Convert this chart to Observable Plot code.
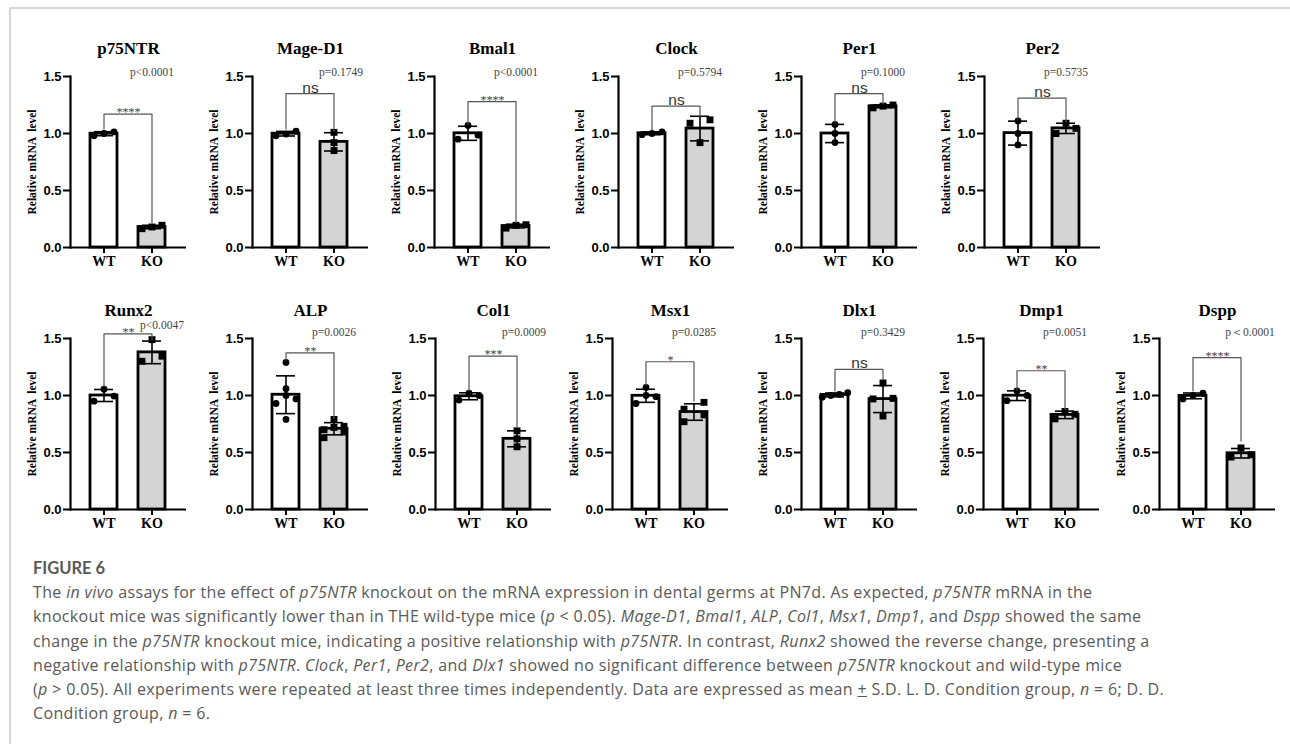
<!DOCTYPE html>
<html>
<head>
<meta charset="utf-8">
<script src="https://cdn.jsdelivr.net/npm/d3@7"></script>
<script src="https://cdn.jsdelivr.net/npm/@observablehq/plot@0.6"></script>
<style>
  html, body { margin: 0; padding: 0; background: #fff; }
  body { width: 1290px; height: 744px; overflow: hidden; position: relative; }
  #frame { position: absolute; left: 9px; top: 7px; width: 1320px; height: 780px;
           border-left: 2px solid #d6d6d6; border-top: 2px solid #d6d6d6; }
  .panel { position: absolute; }
  #caption { position: absolute; left: 33px; top: 556px; font-family: "Open Sans", Lato, sans-serif;
             color: #595959; white-space: nowrap; }
  #caption .fig { font-family: Lato, sans-serif; font-size: 16.5px; font-weight: bold; line-height: 24px; }
  #caption .ln { font-size: 16px; line-height: 24.3px; letter-spacing: 0.34px; }
</style>
</head>
<body>
<div id="frame"></div>
<div id="charts"></div>
<div id="caption">
  <div class="fig">FIGURE 6</div>
  <div class="ln">The <i>in vivo</i> assays for the effect of <i>p75NTR</i> knockout on the mRNA expression in dental germs at PN7d. As expected, <i>p75NTR</i> mRNA in the</div>
  <div class="ln">knockout mice was significantly lower than in THE wild-type mice (<i>p</i> &lt; 0.05). <i>Mage-D1</i>, <i>Bmal1</i>, <i>ALP</i>, <i>Col1</i>, <i>Msx1</i>, <i>Dmp1</i>, and <i>Dspp</i> showed the same</div>
  <div class="ln">change in the <i>p75NTR</i> knockout mice, indicating a positive relationship with <i>p75NTR</i>. In contrast, <i>Runx2</i> showed the reverse change, presenting a</div>
  <div class="ln">negative relationship with <i>p75NTR</i>. <i>Clock</i>, <i>Per1</i>, <i>Per2</i>, and <i>Dlx1</i> showed no significant difference between <i>p75NTR</i> knockout and wild-type mice</div>
  <div class="ln">(<i>p</i> &gt; 0.05). All experiments were repeated at least three times independently. Data are expressed as mean <u>+</u> S.D. L. D. Condition group, <i>n</i> = 6; D. D.</div>
  <div class="ln">Condition group, <i>n</i> = 6.</div>
</div>
<script>
// ---------------- DATA ----------------
const genes = ["p75NTR", "Mage-D1", "Bmal1", "Clock", "Per1", "Per2",
               "Runx2", "ALP", "Col1", "Msx1", "Dlx1", "Dmp1", "Dspp"];
const groups = ["WT", "KO"];
const wtValues = [
  [0.98, 1.015, 1.0],
  [0.98, 1.02, 0.995],
  [0.95, 1.07, 0.985],
  [0.99, 1.015, 1.0],
  [1.08, 1.0, 0.92],
  [1.11, 1.0, 0.9],
  [0.95, 1.055, 0.995],
  [1.29, 1.06, 0.97, 1.0, 0.93, 0.79],
  [0.96, 1.02, 1.0],
  [1.07, 0.99, 1.0, 0.93],
  [0.985, 1.0, 1.01, 1.025],
  [1.04, 0.955, 1.0],
  [0.97, 1.02, 1.0]
];
const koValues = [
  [0.165, 0.195, 0.18],
  [0.85, 0.92, 1.01],
  [0.17, 0.2, 0.195],
  [0.92, 1.09, 1.12],
  [1.225, 1.25, 1.24],
  [1.0, 1.09, 1.045],
  [1.3, 1.345, 1.49],
  [0.79, 0.73, 0.72, 0.7, 0.68, 0.63],
  [0.69, 0.62, 0.55],
  [0.94, 0.88, 0.83, 0.77],
  [1.11, 0.97, 0.975, 0.82],
  [0.795, 0.86, 0.835],
  [0.46, 0.54, 0.48]
];
const sigLabels = ["****", "ns", "****", "ns", "ns", "ns", "**", "**", "***", "*", "ns", "**", "****"];
const pLabels = ["p<0.0001", "p=0.1749", "p<0.0001", "p=0.5794", "p=0.1000", "p=0.5735",
                 "p<0.0047", "p=0.0026", "p=0.0009", "p=0.0285", "p=0.3429", "p=0.0051", "p\uFF1C0.0001"];
const bracketHeights = [1.17, 1.35, 1.28, 1.24, 1.35, 1.31, 1.54, 1.374, 1.345, 1.296, 1.23, 1.217, 1.333];
const bracketWTEnds = [1.04, 1.04, 1.08, 1.03, 1.1, 1.13, 1.08, 1.31, 1.04, 1.09, 1.04, 1.05, 1.04];
const bracketKOEnds = [0.22, 1.02, 0.22, 1.15, 1.26, 1.1, 1.49, 0.8, 0.72, 0.95, 1.14, 0.88, 0.6];
const yTicks = [0, 0.5, 1.0, 1.5];
const yTitle = "Relative mRNA  level";

// ---------------- LAYOUT ----------------
const rows = [
  {top: 31, axisX: [70, 252, 434, 618, 801, 984], genes: [0, 1, 2, 3, 4, 5]},
  {top: 293, axisX: [70, 252, 435, 612, 801, 983, 1159], genes: [6, 7, 8, 9, 10, 11, 12]}
];
const ML = 55, MR = 15, MT = 45, MB = 30, INNER_W = 116, INNER_H = 171;
const pTextDx = {1: 7, 6: 10, 8: 7, 12: 9};
const pTextDy = {6: -13};

// x band layout
const padInner = 0.43, padOuter = 0.4;
const step = INNER_W / (groups.length - padInner + 2 * padOuter);

// spread points of similar value side by side (GraphPad-like scatter)
function spread(vals) {
  const idx = d3.range(vals.length).sort((a, b) => vals[a] - vals[b]);
  const off = new Array(vals.length).fill(0);
  let row = [];
  const flush = () => {
    const k = row.length;
    const sp = k === 2 ? 20 : k === 3 ? 10 : 8.5;
    row.forEach((i, j) => off[i] = (j - (k - 1) / 2) * sp);
    row = [];
  };
  for (const i of idx) {
    if (row.length && vals[i] - vals[row[0]] > 0.06) flush();
    row.push(i);
  }
  flush();
  return off;
}

const serif = "'Liberation Serif', 'Times New Roman', serif";
const sans = "'Liberation Sans', Arial, sans-serif";
const charts = document.getElementById("charts");

rows.forEach((row, r) => {
  row.genes.forEach((gi, k) => {
    const wt = wtValues[gi], ko = koValues[gi];
    const stats = [
      {g: "WT", m: d3.mean(wt), sd: d3.deviation(wt)},
      {g: "KO", m: d3.mean(ko), sd: d3.deviation(ko)}
    ];
    const offW = spread(wt), offK = spread(ko);
    const pts = [
      ...wt.map((v, i) => ({g: "WT", v, o: offW[i]})),
      ...ko.map((v, i) => ({g: "KO", v, o: offK[i]}))
    ];
    const dotMarks = [];
    for (const [key, sub] of d3.group(pts, d => d.g + "|" + d.o)) {
      const isWT = sub[0].g === "WT";
      dotMarks.push(Plot.dot(sub, {
        x: "g", y: "v", dx: sub[0].o,
        symbol: isWT ? "circle" : "square",
        r: isWT ? 3.4 : 3.9, fill: "black", stroke: "none"
      }));
    }
    const bracket = [
      {g: "WT", v: bracketWTEnds[gi]},
      {g: "WT", v: bracketHeights[gi]},
      {g: "KO", v: bracketHeights[gi]},
      {g: "KO", v: bracketKOEnds[gi]}
    ];
    const sig = sigLabels[gi];
    const isNs = sig === "ns";

    const svg = Plot.plot({
      width: ML + INNER_W + MR,
      height: MT + INNER_H + MB,
      marginLeft: ML, marginRight: MR, marginTop: MT, marginBottom: MB,
      style: {background: "transparent", color: "black", overflow: "visible"},
      x: {domain: groups, paddingInner: padInner, paddingOuter: padOuter, label: null},
      y: {domain: [0, 1.5], label: null},
      marks: [
        Plot.barY(stats, {x: "g", y: "m", fill: d => d.g === "WT" ? "white" : "#d4d4d4",
                          stroke: "black", strokeWidth: 2.8}),
        Plot.ruleX(stats, {x: "g", y1: d => d.m - d.sd, y2: d => d.m + d.sd, stroke: "black", strokeWidth: 1.6}),
        Plot.tickY(stats, {x: "g", y: d => d.m + d.sd, stroke: "black", strokeWidth: 1.6, insetLeft: 4, insetRight: 4}),
        Plot.tickY(stats, {x: "g", y: d => d.m - d.sd, stroke: "black", strokeWidth: 1.6, insetLeft: 4, insetRight: 4}),
        ...dotMarks,
        Plot.line(bracket, {x: "g", y: "v", stroke: "#555", strokeWidth: 1.2}),
        Plot.text([sig], {x: () => "WT", y: () => bracketHeights[gi], text: d => d,
                          dx: step / 2, dy: isNs ? -1 : 2, lineAnchor: "bottom",
                          fontFamily: isNs ? sans : serif, fontSize: isNs ? 15.5 : 12,
                          fill: isNs ? "#333" : "#444"}),
        Plot.text([pLabels[gi]], {x: () => "KO", frameAnchor: "top", text: d => d,
                          dx: pTextDx[gi] || 0, dy: pTextDy[gi] || (r === 0 ? -4 : -6),
                          lineAnchor: "middle", fontFamily: serif, fontSize: 11.5, fill: "#444"}),
        Plot.text([genes[gi]], {frameAnchor: "top", text: d => d, dy: -28, lineAnchor: "middle",
                          fontFamily: serif, fontWeight: "bold", fontSize: 17, fill: "black"}),
        Plot.text([yTitle], {frameAnchor: "left", text: d => d, rotate: -90, dx: -38,
                          textAnchor: "middle", lineAnchor: "middle",
                          fontFamily: serif, fontWeight: "bold", fontSize: 11.5, fill: "black"}),
        Plot.axisY({ticks: yTicks, tickFormat: d3.format(".1f"), tickSize: 7, tickPadding: 2,
                    fontFamily: sans, fontWeight: "bold", fontSize: 13, strokeWidth: 2, label: null}),
        Plot.axisX({tickSize: 6, tickPadding: 3, fontFamily: serif, fontWeight: "bold", fontSize: 14,
                    strokeWidth: 2, label: null}),
        Plot.frame({anchor: "left", strokeWidth: 2.2}),
        Plot.ruleY([0], {strokeWidth: 2.2})
      ]
    });
    const div = document.createElement("div");
    div.className = "panel";
    div.style.left = (row.axisX[k] - ML) + "px";
    div.style.top = row.top + "px";
    div.appendChild(svg);
    charts.appendChild(div);
  });
});
</script>
</body>
</html>
